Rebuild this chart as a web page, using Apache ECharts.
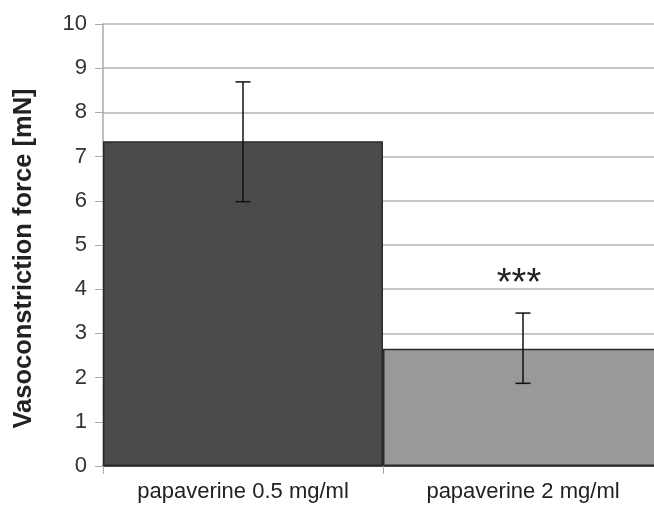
<!DOCTYPE html>
<html>
<head>
<meta charset="utf-8">
<script src="https://cdn.jsdelivr.net/npm/echarts@6/dist/echarts.min.js"></script>
<style>html,body{margin:0;padding:0;background:#fff;overflow:hidden;}#c{width:654px;height:509px;}</style>
</head>
<body>
<div id="c"></div>
<script>
const categories = ["papaverine 0.5 mg/ml", "papaverine 2 mg/ml"];
const meanValues = [7.35, 2.65];
const errLow = [5.98, 1.87];
const errHigh = [8.69, 3.46];
const significance = ["", "***"];
const sigLevel = [0, 4.3];
const yTicks = [0, 10, 1]; // min, max, interval
const barColors = ["#4b4b4b", "#999999"];

const chart = echarts.init(document.getElementById('c'));
const font = '"Liberation Sans", Arial, sans-serif';
chart.setOption({
  animation: false,
  grid: { left: 103, width: 560, top: 24, bottom: 43, containLabel: false, outerBoundsMode: 'none' },
  xAxis: {
    type: 'category',
    data: categories,
    axisLine: { show: true, lineStyle: { color: '#222', width: 1.5 } },
    axisTick: { show: true, length: 8, lineStyle: { color: '#aaa' } },
    axisLabel: { color: '#222', fontSize: 22, fontFamily: font, margin: 15 }
  },
  yAxis: {
    type: 'value',
    min: yTicks[0], max: yTicks[1], interval: yTicks[2],
    name: 'Vasoconstriction force [mN]',
    nameLocation: 'middle',
    nameGap: 66,
    nameTextStyle: { fontSize: 25.5, fontWeight: 'bold', color: '#222', fontFamily: font, padding: [0, 27, 0, 0] },
    axisLine: { show: true, lineStyle: { color: '#aaa', width: 1.5 } },
    axisTick: { show: true, length: 8, lineStyle: { color: '#aaa' } },
    axisLabel: { color: '#333', fontSize: 22, fontFamily: font, margin: 16 },
    splitLine: { show: true, lineStyle: { color: '#c8c8c8', width: 2 } }
  },
  series: [
    {
      type: 'bar',
      barCategoryGap: '0%',
      data: meanValues.map((v, i) => ({ value: v, itemStyle: { color: barColors[i] } })),
      itemStyle: { borderColor: '#2a2a2a', borderWidth: 1.5 }
    },
    {
      type: 'custom',
      data: categories.map((c, i) => [i, errLow[i], errHigh[i], sigLevel[i]]),
      z: 10,
      renderItem: function (params, api) {
        const i = api.value(0);
        const lo = api.coord([i, api.value(1)]);
        const hi = api.coord([i, api.value(2)]);
        const sg = api.coord([i, api.value(3)]);
        const hw = 7.5;
        const style = { stroke: '#111', lineWidth: 1.5 };
        const children = [
          { type: 'line', shape: { x1: lo[0], y1: lo[1], x2: hi[0], y2: hi[1] }, style },
          { type: 'line', shape: { x1: hi[0] - hw, y1: hi[1], x2: hi[0] + hw, y2: hi[1] }, style },
          { type: 'line', shape: { x1: lo[0] - hw, y1: lo[1], x2: lo[0] + hw, y2: lo[1] }, style }
        ];
        if (significance[i]) {
          children.push({ type: 'text', style: { text: significance[i], x: sg[0] - 4, y: sg[1] + 9, align: 'center', verticalAlign: 'middle', fontSize: 38, fontFamily: font, fill: '#222' } });
        }
        return { type: 'group', children };
      }
    }
  ]
});
</script>
</body>
</html>
